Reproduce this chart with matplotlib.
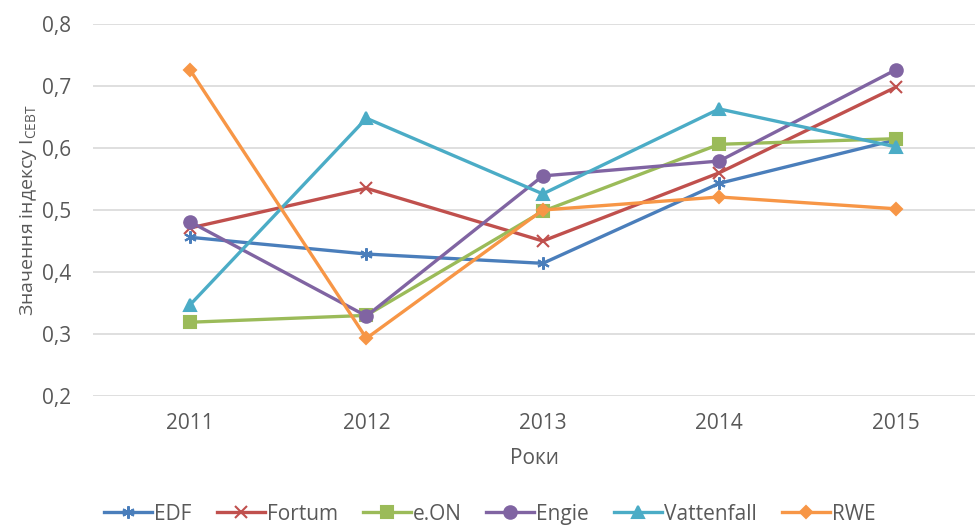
import matplotlib
matplotlib.use("Agg")
import matplotlib.pyplot as plt

years = ["2011", "2012", "2013", "2014", "2015"]
edf = [0.456, 0.429, 0.414, 0.543, 0.613]
fortum = [0.471, 0.535, 0.450, 0.560, 0.698]
eon = [0.319, 0.330, 0.498, 0.606, 0.615]
engie = [0.481, 0.329, 0.555, 0.579, 0.726]
vattenfall = [0.347, 0.648, 0.526, 0.663, 0.602]
rwe = [0.726, 0.293, 0.500, 0.521, 0.502]
yticks = [0.2, 0.3, 0.4, 0.5, 0.6, 0.7, 0.8]

plt.rcParams['font.family'] = ['Open Sans', 'DejaVu Sans']
plt.rcParams['mathtext.fontset'] = 'custom'
plt.rcParams['mathtext.rm'] = 'Open Sans'

fig = plt.figure(figsize=(9.75, 5.28), dpi=100)
ax = fig.add_axes([0.0954, 0.25, 0.9046, 0.7045])

x = list(range(len(years)))
series = [
    ("EDF", edf, "#4A7EBB", (6, 2, 0), 9),
    ("Fortum", fortum, "#C0504D", "x", 8),
    ("e.ON", eon, "#9BBB59", "s", 8),
    ("Engie", engie, "#8064A2", "o", 9),
    ("Vattenfall", vattenfall, "#4BACC6", "^", 9),
    ("RWE", rwe, "#F79646", "D", 6),
]
for name, vals, col, mk, ms in series:
    ax.plot(x, vals, color=col, lw=2.4, marker=mk, markersize=ms,
            markeredgecolor=col, markerfacecolor=col, markeredgewidth=1.5,
            label=name, clip_on=False)

ax.set_ylim(0.2, 0.8)
ax.set_xlim(-0.55, 4.45)
ax.set_yticks(yticks)
ax.set_yticklabels([f"{t:.1f}".replace(".", ",") for t in yticks])
ax.set_xticks(x)
ax.set_xticklabels(years)
ax.grid(axis='y', color='#D9D9D9', lw=1.2)
ax.set_axisbelow(True)
for s in ax.spines.values():
    s.set_visible(False)
ax.tick_params(length=0, labelsize=15, colors='#595959', pad=12)
ax.tick_params(axis='y', pad=16)
ax.set_xlabel("Роки", fontsize=15, color='#595959', labelpad=10)
ax.set_ylabel(r"Значення індексу I$_{\mathregular{СЕВТ}}$", fontsize=14,
              color='#595959', labelpad=2)

leg = ax.legend(loc='center', bbox_to_anchor=(0.45, -0.318), ncol=6,
                frameon=False, fontsize=15, handlelength=2.3,
                columnspacing=1.2, handletextpad=0.1, borderpad=0.1)
for t in leg.get_texts():
    t.set_color('#595959')

fig.savefig("out.png", dpi=100)
